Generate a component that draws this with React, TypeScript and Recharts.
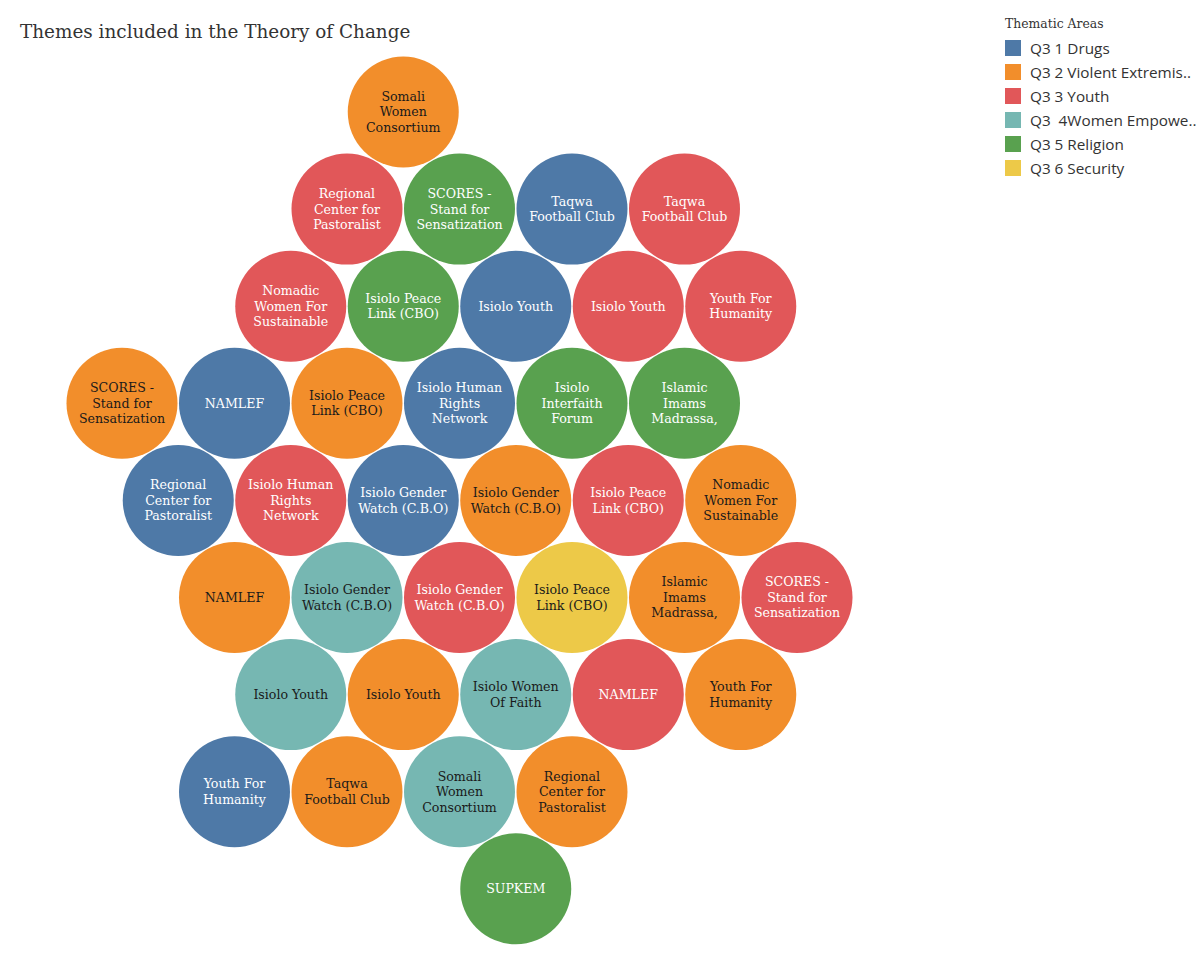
import React from 'react';
import { ScatterChart, Scatter, XAxis, YAxis } from 'recharts';

// thematic areas (legend order) and their colours
const themes = [
  'Q3 1 Drugs',
  'Q3 2 Violent Extremis..',
  'Q3 3 Youth',
  'Q3  4Women Empowe..',
  'Q3 5 Religion',
  'Q3 6 Security',
];
const themeColors = ['#4e79a7', '#f28e2b', '#e15759', '#76b7b2', '#59a14f', '#edc948'];
const themeTextColors = ['#ffffff', '#1a1a1a', '#ffffff', '#1a1a1a', '#ffffff', '#1a1a1a'];

// bubbles: organisation label, theme index, packed position (half-column, row)
const labels = [
  'Somali\nWomen\nConsortium',
  'Regional\nCenter for\nPastoralist', 'SCORES -\nStand for\nSensatization', 'Taqwa\nFootball Club', 'Taqwa\nFootball Club',
  'Nomadic\nWomen For\nSustainable', 'Isiolo Peace\nLink (CBO)', 'Isiolo Youth', 'Isiolo Youth', 'Youth For\nHumanity',
  'SCORES -\nStand for\nSensatization', 'NAMLEF', 'Isiolo Peace\nLink (CBO)', 'Isiolo Human\nRights\nNetwork', 'Isiolo\nInterfaith\nForum', 'Islamic\nImams\nMadrassa,',
  'Regional\nCenter for\nPastoralist', 'Isiolo Human\nRights\nNetwork', 'Isiolo Gender\nWatch (C.B.O)', 'Isiolo Gender\nWatch (C.B.O)', 'Isiolo Peace\nLink (CBO)', 'Nomadic\nWomen For\nSustainable',
  'NAMLEF', 'Isiolo Gender\nWatch (C.B.O)', 'Isiolo Gender\nWatch (C.B.O)', 'Isiolo Peace\nLink (CBO)', 'Islamic\nImams\nMadrassa,', 'SCORES -\nStand for\nSensatization',
  'Isiolo Youth', 'Isiolo Youth', 'Isiolo Women\nOf Faith', 'NAMLEF', 'Youth For\nHumanity',
  'Youth For\nHumanity', 'Taqwa\nFootball Club', 'Somali\nWomen\nConsortium', 'Regional\nCenter for\nPastoralist',
  'SUPKEM',
];
const themeIdx = [
  1,
  2, 4, 0, 2,
  2, 4, 0, 2, 2,
  1, 0, 1, 0, 4, 4,
  0, 2, 0, 1, 2, 1,
  1, 3, 2, 5, 1, 2,
  3, 1, 3, 2, 1,
  0, 1, 3, 1,
  4,
];
const cols = [
  5,
  4, 6, 8, 10,
  3, 5, 7, 9, 11,
  0, 2, 4, 6, 8, 10,
  1, 3, 5, 7, 9, 11,
  2, 4, 6, 8, 10, 12,
  3, 5, 7, 9, 11,
  2, 4, 6, 8,
  7,
];
const rows = [
  0,
  1, 1, 1, 1,
  2, 2, 2, 2, 2,
  3, 3, 3, 3, 3, 3,
  4, 4, 4, 4, 4, 4,
  5, 5, 5, 5, 5, 5,
  6, 6, 6, 6, 6,
  7, 7, 7, 7,
  8,
];

const bubbles = labels.map((label, i) => ({ label, theme: themeIdx[i], col: cols[i], row: rows[i] }));

const W = 1200;
const H = 960;
const R = 55.5;

function Bubble(props: any) {
  const { cx, cy, payload } = props;
  const lines: string[] = payload.label.split('\n');
  const lh = 15.5;
  const start = cy - ((lines.length - 1) * lh) / 2;
  return (
    <g>
      <circle cx={cx} cy={cy} r={R} fill={themeColors[payload.theme]} />
      <text
        textAnchor="middle"
        fontFamily="'DejaVu Serif', Georgia, serif"
        fontSize={12.6}
        fill={themeTextColors[payload.theme]}
      >
        {lines.map((l, i) => (
          <tspan key={i} x={cx} y={start + i * lh} dy="0.35em">
            {l}
          </tspan>
        ))}
      </text>
    </g>
  );
}

export default function App() {
  // col 0 -> x 122px, 56.25px per half-column; row 0 -> y 112px, 97.1px per row
  const xMin = -122 / 56.25;
  const xMax = xMin + W / 56.25;
  const yMin = -112 / 97.1;
  const yMax = yMin + H / 97.1;

  return (
    <div style={{ position: 'absolute', left: 0, top: 0, width: W, height: H, background: '#fff' }}>
      <ScatterChart width={W} height={H} margin={{ top: 0, right: 0, bottom: 0, left: 0 }}>
        <XAxis type="number" dataKey="col" domain={[xMin, xMax]} hide allowDataOverflow />
        <YAxis type="number" dataKey="row" domain={[yMin, yMax]} reversed hide allowDataOverflow width={0} />
        <Scatter data={bubbles} shape={Bubble} isAnimationActive={false} />
      </ScatterChart>

      <div
        style={{
          position: 'absolute',
          left: 20,
          top: 21,
          fontFamily: "'DejaVu Serif', Georgia, serif",
          fontSize: 18.4,
          color: '#333',
          whiteSpace: 'nowrap',
        }}
      >
        Themes included in the Theory of Change
      </div>

      <div style={{ position: 'absolute', left: 1005, top: 15 }}>
        <div
          style={{
            fontFamily: "'DejaVu Serif', Georgia, serif",
            fontSize: 12.4,
            color: '#333',
            height: 21,
            lineHeight: '18px',
          }}
        >
          Thematic Areas
        </div>
        {themes.map((t, i) => (
          <div key={t} style={{ display: 'flex', alignItems: 'center', height: 24 }}>
            <div style={{ width: 16, height: 16, background: themeColors[i], marginRight: 9 }} />
            <span
              style={{
                fontFamily: "'Open Sans', sans-serif",
                fontSize: 15.3,
                color: '#333',
                whiteSpace: 'pre',
              }}
            >
              {t}
            </span>
          </div>
        ))}
      </div>
    </div>
  );
}
